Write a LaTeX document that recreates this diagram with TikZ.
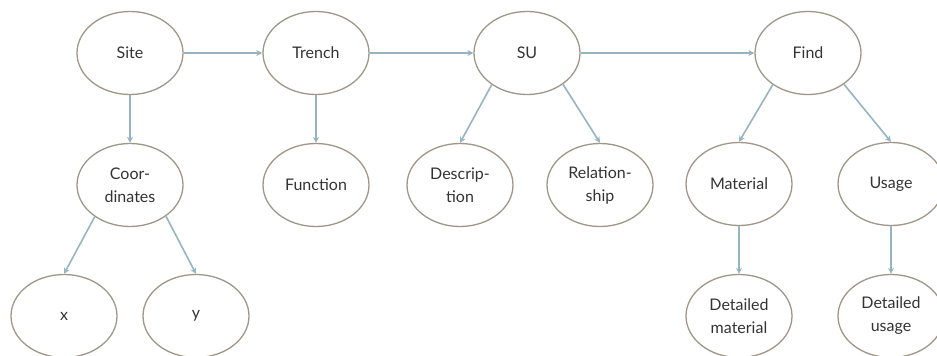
\documentclass[tikz,border=0pt]{standalone}
\usepackage{fontspec}
\setmainfont{Lato}
\usetikzlibrary{arrows.meta,shapes.geometric}
\definecolor{rim}{RGB}{160,150,136}
\definecolor{link}{RGB}{150,180,194}
\tikzset{
  bubble/.style={ellipse, draw=rim, line width=1.3pt, minimum width=106pt,
    minimum height=83pt, inner sep=0pt, align=center,
    font=\fontsize{16}{23}\selectfont, text=black!80},
  link/.style={draw=link, line width=1.6pt,
    -{Stealth[length=6pt,width=6pt]}}
}
\begin{document}
\begin{tikzpicture}[x=1pt,y=-1pt]
\useasboundingbox (0,0) rectangle (937,356);
% top row
\node[bubble] (site)   at (130,53) {Site};
\node[bubble] (trench) at (316,53) {Trench};
\node[bubble] (su)     at (527,53) {SU};
\node[bubble] (find)   at (808,53) {Find};
% middle row
\node[bubble] (coord)  at (130,185) {Coor-\\dinates};
\node[bubble] (func)   at (316,185) {Function};
\node[bubble] (desc)   at (460,185) {Descrip-\\tion};
\node[bubble] (rel)    at (600,185) {Relation-\\ship};
\node[bubble] (mat)    at (739,184) {Material};
\node[bubble] (usage)  at (891,184) {Usage};
% bottom row
\node[bubble] (x)      at (64,316) {x};
\node[bubble] (y)      at (196,316) {y};
\node[bubble] (dmat)   at (739,316) {Detailed\\material};
\node[bubble] (duse)   at (891,316) {Detailed\\usage};
% connectors
\draw[link] (site) -- (trench);
\draw[link] (trench) -- (su);
\draw[link] (su) -- (find);
\draw[link] (site) -- (coord);
\draw[link] (trench) -- (func);
\draw[link] (su.-138) -- (desc.north);
\draw[link] (su.-41) -- (rel.north);
\draw[link] (find.-138) -- (mat.north);
\draw[link] (find.-41) -- (usage.north);
\draw[link] (coord.-138) -- (x.north);
\draw[link] (coord.-41) -- (y.north);
\draw[link] (mat) -- (dmat);
\draw[link] (usage) -- (duse);
\end{tikzpicture}
\end{document}
